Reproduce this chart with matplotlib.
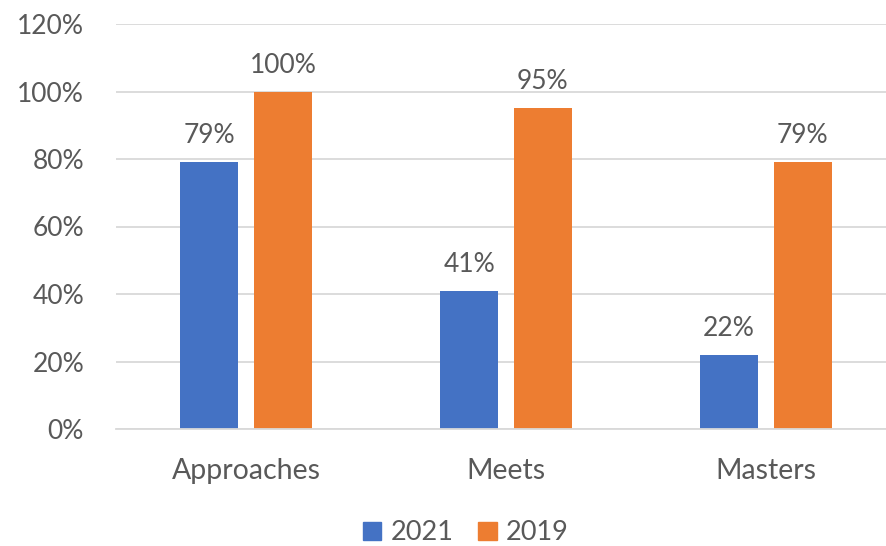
import matplotlib.pyplot as plt
from matplotlib.patches import Patch
import numpy as np

# data
categories = ["Approaches", "Meets", "Masters"]
years = ["2021", "2019"]
vals_2021 = [0.79, 0.41, 0.22]
vals_2019 = [1.00, 0.95, 0.79]
yticks = [0, 0.2, 0.4, 0.6, 0.8, 1.0, 1.2]

blue = "#4472C4"
orange = "#ED7D31"
txt = "#595959"
grid = "#D9D9D9"

plt.rcParams['font.family'] = ['Lato', 'DejaVu Sans']
fsize = 19
csize = 20.5

W, H = 887, 546
fig = plt.figure(figsize=(W / 100, H / 100), dpi=100)
# plot area: left edge 116px, baseline 429px, top 24px; runs past right edge
ax = fig.add_axes([116 / W, (H - 429) / H, (W - 116) / W, (429 - 24) / H])

x = np.arange(len(categories))
bw = 0.223
off = 0.142
b1 = ax.bar(x - off, vals_2021, bw, color=blue, zorder=3)
b2 = ax.bar(x + off, vals_2019, bw, color=orange, zorder=3)

for bars, vals in [(b1, vals_2021), (b2, vals_2019)]:
    for rect, v in zip(bars, vals):
        ax.annotate(f"{v:.0%}", (rect.get_x() + rect.get_width() / 2, v),
                    xytext=(0, 10), textcoords="offset points",
                    ha="center", va="bottom", fontsize=fsize, color=txt)

ax.set_xlim(-0.5, 2.5 - 9 / 260)
ax.set_ylim(0, 1.2)
ax.set_yticks(yticks)
ax.set_yticklabels([f"{t:.0%}" for t in yticks])
ax.set_xticks(x)
ax.set_xticklabels(categories)
ax.tick_params(axis="both", length=0, labelcolor=txt)
ax.tick_params(axis="y", pad=23, labelsize=fsize)
ax.tick_params(axis="x", pad=21, labelsize=csize)

ax.yaxis.grid(True, color=grid, linewidth=1.3, zorder=0)
for s in ["top", "right", "left"]:
    ax.spines[s].set_visible(False)
ax.spines["bottom"].set_color(grid)
ax.spines["bottom"].set_linewidth(1.3)
ax.spines["bottom"].set_zorder(4)

handles = [Patch(color=blue), Patch(color=orange)]
fig.legend(handles, years, loc="center", bbox_to_anchor=(466 / W, (H - 533) / H),
           ncol=2, frameon=False, fontsize=19.5, labelcolor=txt,
           handlelength=0.68, handleheight=0.68, handletextpad=0.35,
           columnspacing=0.9, borderpad=0)

fig.savefig("out.png", dpi=100)
